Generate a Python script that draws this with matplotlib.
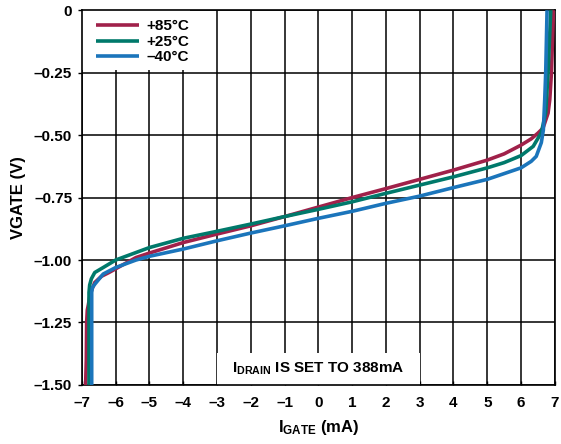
import matplotlib
matplotlib.use("Agg")
import matplotlib.pyplot as plt
from matplotlib.patches import Rectangle

plt.rcParams['font.family'] = ['Liberation Sans', 'DejaVu Sans']
plt.rcParams['font.weight'] = 'bold'
plt.rcParams['font.size'] = 11
plt.rcParams['mathtext.fontset'] = 'custom'
plt.rcParams['mathtext.rm'] = 'Liberation Sans:bold'
plt.rcParams['mathtext.bf'] = 'Liberation Sans:bold'
plt.rcParams['mathtext.it'] = 'Liberation Sans:bold'
plt.rcParams['mathtext.default'] = 'bf'

# gate current (mA) vs gate voltage (V)
igate_85 = [-6.89, -6.87, -6.86, -6.84, -6.81, -6.76, -6.71, -6.62, -6.42, -6.2, -6.0,
            -5.4, -5.0, -4.0, -3.0, -2.0, -1.0, 0.0, 1.0, 2.0, 3.0, 4.0, 5.0, 5.5,
            6.0, 6.3, 6.5, 6.65, 6.8, 6.85, 6.9, 6.96]
vgate_85 = [-1.50, -1.40, -1.25, -1.20, -1.18, -1.14, -1.12, -1.09, -1.065, -1.05, -1.035,
            -0.99, -0.972, -0.93, -0.896, -0.863, -0.826, -0.788, -0.75, -0.714, -0.677, -0.64, -0.60, -0.575,
            -0.54, -0.515, -0.492, -0.472, -0.412, -0.358, -0.25, 0.0]

igate_25 = [-6.79, -6.79, -6.79, -6.77, -6.72, -6.62, -6.37, -6.0, -5.4, -5.0, -4.0,
            -3.0, -2.0, -1.0, 0.0, 1.0, 2.0, 3.0, 4.0, 5.0, 5.5, 6.0, 6.36, 6.6,
            6.73, 6.8, 6.88]
vgate_25 = [-1.50, -1.25, -1.13, -1.10, -1.075, -1.05, -1.03, -1.0, -0.97, -0.95, -0.913,
            -0.885, -0.856, -0.826, -0.797, -0.767, -0.733, -0.70, -0.667, -0.631, -0.61, -0.582, -0.545, -0.49,
            -0.41, -0.25, 0.0]

igate_m40 = [-6.71, -6.71, -6.71, -6.69, -6.62, -6.37, -6.0, -5.4, -5.0, -4.0, -3.0,
             -2.0, -1.0, 0.0, 1.0, 2.0, 3.0, 4.0, 5.0, 6.0, 6.3, 6.45, 6.6, 6.66,
             6.70, 6.73, 6.77]
vgate_m40 = [-1.50, -1.25, -1.13, -1.11, -1.097, -1.056, -1.03, -1.0, -0.985, -0.956, -0.923,
             -0.892, -0.863, -0.833, -0.805, -0.773, -0.744, -0.71, -0.677, -0.631, -0.605, -0.585, -0.53, -0.48,
             -0.36, -0.25, 0.0]

series_labels = ["+85°C", "+25°C", "\u201340°C"]
series_colors = ["#A0214A", "#00796B", "#1B75BB"]

x_ticks = list(range(-7, 8))
x_tick_labels = ["\u2013" + str(-v) if v < 0 else str(v) for v in x_ticks]
y_ticks = [0, -0.25, -0.5, -0.75, -1.0, -1.25, -1.5]
y_tick_labels = ["0", "\u20130.25", "\u20130.50", "\u20130.75", "\u20131.00", "\u20131.25", "\u20131.50"]

fig = plt.figure(figsize=(5.61, 4.44), dpi=100)
ax = fig.add_axes([0.146, 0.133, 0.843, 0.844])

for xs, ys, lab, col in zip([igate_85, igate_25, igate_m40],
                            [vgate_85, vgate_25, vgate_m40],
                            series_labels, series_colors):
    ax.plot(xs, ys, color=col, lw=2.6, label=lab, solid_capstyle='butt', zorder=3)

ax.set_xlim(-7, 7)
ax.set_ylim(-1.5, 0)
ax.tick_params(axis='x', direction='in', length=3, width=1, pad=8, labelsize=11)
ax.tick_params(axis='y', direction='out', length=3, width=1, pad=4, labelsize=11)
ax.set_xticks(x_ticks)
ax.set_xticklabels(x_tick_labels, fontweight='bold', fontsize=11)
ax.set_yticks(y_ticks)
ax.set_yticklabels(y_tick_labels, fontweight='bold', fontsize=11)
ax.grid(True, color='black', lw=1.1)
ax.set_axisbelow(True)
for s in ax.spines.values():
    s.set_linewidth(1.2)

# white boxes behind legend and note
ax.add_patch(Rectangle((0, 0.84), 0.228, 0.16, transform=ax.transAxes,
                       facecolor='white', edgecolor='none', zorder=1))
ax.add_patch(Rectangle((0.285, 0), 0.43, 0.085, transform=ax.transAxes,
                       facecolor='white', edgecolor='none', zorder=1))

leg = ax.legend(loc='upper left', bbox_to_anchor=(0.01, 1.0), frameon=False,
                handlelength=2.8, handletextpad=0.5, labelspacing=0.1,
                borderaxespad=0.2, prop={'weight': 'bold', 'size': 11})

ax.text(0.5, 0.042, r"$I_{DRAIN}$ IS SET TO 388mA", transform=ax.transAxes,
        ha='center', va='center', fontsize=11, fontweight='bold', zorder=4)

ax.set_xlabel(r"$I_{GATE}$ (mA)", fontsize=12, fontweight='bold', labelpad=6)
ax.set_ylabel("VGATE (V)", fontsize=12, fontweight='bold', labelpad=6)

fig.savefig("out.png", dpi=100)
